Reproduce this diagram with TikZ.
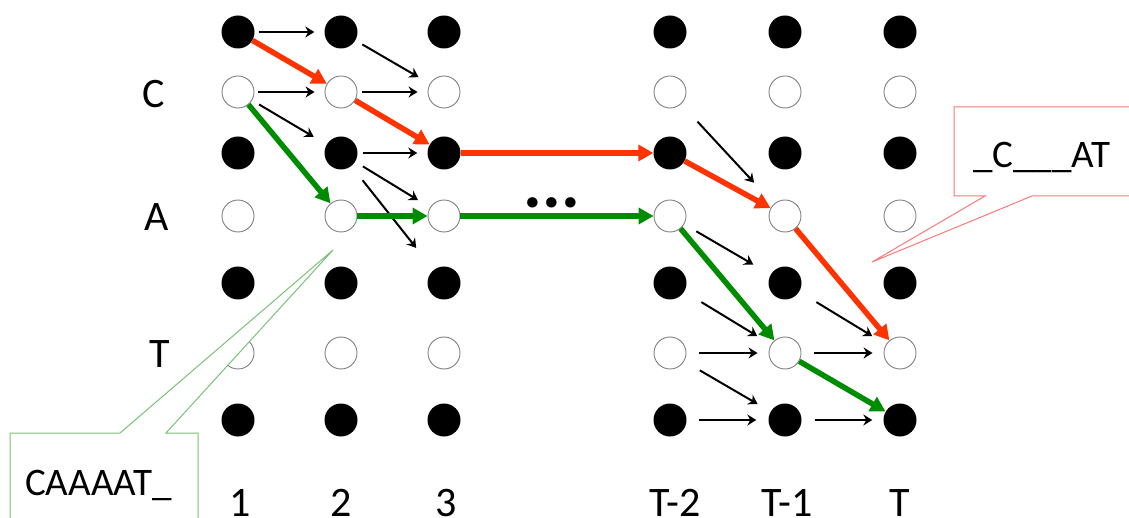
\documentclass[tikz,border=0pt]{standalone}
\usepackage{fontspec}
\setmainfont{Carlito}
\usetikzlibrary{arrows.meta}
\definecolor{redA}{RGB}{255,51,0}
\definecolor{greenA}{RGB}{0,140,0}
\definecolor{redC}{RGB}{255,120,120}
\definecolor{greenC}{RGB}{120,195,120}
\begin{document}
\begin{tikzpicture}[x=1pt,y=-1pt,
  blk/.style={circle,fill=black,inner sep=0pt,minimum size=33pt},
  wht/.style={circle,draw=black!50,line width=0.9pt,fill=white,inner sep=0pt,minimum size=32pt},
  thinarr/.style={line width=2pt,-{Stealth[length=9pt,width=11pt,inset=3pt]}},
  redarr/.style={draw=redA,line width=5.5pt,-{Triangle[length=15pt,width=16pt]}},
  grnarr/.style={draw=greenA,line width=5.5pt,-{Triangle[length=15pt,width=16pt]}},
  lbl/.style={font=\fontsize{42}{48}\selectfont,anchor=base,inner sep=0pt},
  ctext/.style={font=\fontsize{39}{44}\selectfont,anchor=base west,inner sep=0pt},
  gcall/.style={draw=greenC,fill=white,line width=1pt},
  rcall/.style={draw=redC,fill=white,line width=1pt}
]
\useasboundingbox (0,0) rectangle (1129,518);
\clip (0,0) rectangle (1129,518);
% grid of states
\foreach \c/\x in {1/238,2/341,3/444,4/670,5/785,6/900}{
  \foreach \r/\y in {0/32,1/92,2/153,3/216,4/283,5/353,6/420}{
    \ifodd\r
      \node[wht] (n\r\c) at (\x,\y) {};
    \else
      \node[blk] (n\r\c) at (\x,\y) {};
    \fi
  }
}
% row labels
\node[lbl] (lC) at (154,108) {C};
\node[lbl] (lA) at (157,231) {A};
\node[lbl] (lT) at (160,367) {T};
% column labels
\node[lbl] (c1) at (240,516) {1};
\node[lbl] (c2) at (341,516) {2};
\node[lbl] (c3) at (446,516) {3};
\node[lbl] (c4) at (675,516) {T-2};
\node[lbl] (c5) at (787,516) {T-1};
\node[lbl] (c6) at (900,516) {T};
% dots
\node[font=\fontsize{70}{80}\selectfont\bfseries,inner sep=0pt] (dots) at (552,203) {...};
% thin black arrows
\draw[thinarr,shorten <=4pt,shorten >=10pt] (n01) -- (n02);
\draw[thinarr,shorten <=8pt,shorten >=13pt] (n02) -- (n13);
\draw[thinarr,shorten <=4pt,shorten >=10pt] (n11) -- (n12);
\draw[thinarr,shorten <=8pt,shorten >=15pt] (n11) -- (n22);
\draw[thinarr,shorten <=5pt,shorten >=10pt] (n12) -- (n13);
\draw[thinarr,shorten <=5pt,shorten >=10pt] (n22) -- (n23);
\draw[thinarr,shorten <=9pt,shorten >=14pt] (n22) -- (n33);
\draw[thinarr,shorten <=18pt,shorten >=28pt] (n22) -- (n43);
\draw[thinarr,shorten <=24pt,shorten >=29pt] (n14) -- (n35);
\draw[thinarr,shorten <=14pt,shorten >=20pt] (n34) -- (n45);
\draw[thinarr,shorten <=20pt,shorten >=16pt] (n44) -- (n55);
\draw[thinarr,shorten <=18pt,shorten >=15pt] (n54) -- (n65);
\draw[thinarr,shorten <=13pt,shorten >=11pt] (n54) -- (n55);
\draw[thinarr,shorten <=12pt,shorten >=12pt] (n64) -- (n65);
\draw[thinarr,shorten <=20pt,shorten >=16pt] (n45) -- (n56);
\draw[thinarr,shorten <=13pt,shorten >=11pt] (n55) -- (n56);
\draw[thinarr,shorten <=13pt,shorten >=11pt] (n65) -- (n66);
% red path
\draw[redarr] (n01) -- (n12);
\draw[redarr] (n12) -- (n23);
\draw[redarr] (n23) -- (n24);
\draw[redarr] (n24) -- (n35);
\draw[redarr] (n35) -- (n56);
% green path
\draw[grnarr] (n11) -- (n32);
\draw[grnarr] (n32) -- (n33);
\draw[grnarr] (n33) -- (n34);
\draw[grnarr] (n34) -- (n55);
\draw[grnarr] (n55) -- (n66);
% callouts
\coordinate (gtip) at (333,250);
\coordinate (rtip) at (872,262);
\draw[gcall] (10,433) -- (120,433) -- (gtip) -- (166,433) -- (198,433) -- (198,540) -- (10,540) -- cycle;
\node[ctext] (gtext) at (25,495) {CAAAAT\_};
\draw[rcall] (954,107) -- (1140,107) -- (1140,196) -- (1032,196) -- (rtip) -- (985,196) -- (954,196) -- cycle;
\node[ctext] (rtext) at (973,168) {\_C\_\_\_AT};
\end{tikzpicture}
\end{document}
